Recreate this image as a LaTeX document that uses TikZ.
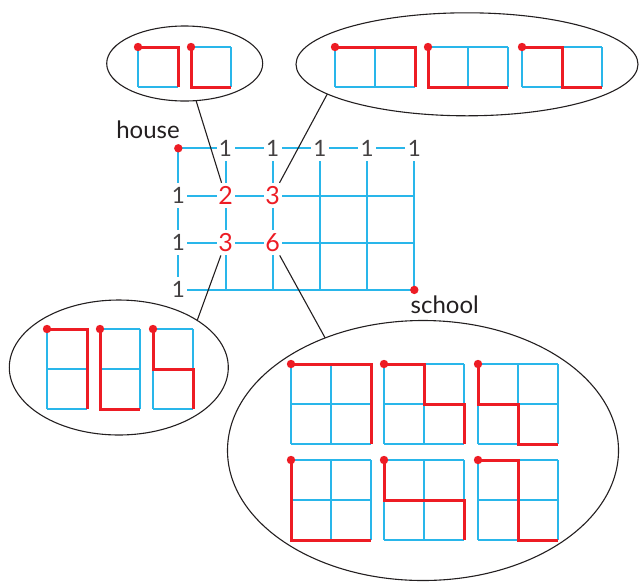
\documentclass[tikz,border=0pt]{standalone}
\usepackage{fontspec}
\setmainfont{Lato}
\usetikzlibrary{shapes.geometric}

\definecolor{gridblue}{HTML}{29B6EA}
\definecolor{routered}{HTML}{ED1C24}
\definecolor{inkgray}{HTML}{231F20}

\tikzset{
  gridline/.style={draw=gridblue, line width=1.3pt},
  maingrid/.style={draw=gridblue, line width=2pt},
  route/.style={draw=routered, line width=3pt, line join=miter},
  bubble/.style={ellipse, draw=inkgray, line width=1.1pt, inner sep=0pt, outer sep=0pt},
  pointer/.style={draw=inkgray, line width=1.1pt},
  count/.style={fill=white, inner sep=0pt, minimum width=18pt, minimum height=25pt,
    font=\fontsize{22.5}{22.5}\selectfont, text=inkgray!85},
  pathcount/.style={count, text=routered, font=\fontsize{25}{25}\selectfont},
  placename/.style={anchor=base, inner sep=0pt, text=inkgray, font=\fontsize{24}{24}\selectfont},
}

% a small block of cells (40pt each) with one red route from its top-left corner
\newcommand\minigrid[5]{%
  \begin{scope}[shift={(#1,#2)}, x=40pt, y=-40pt]
    \foreach \i in {0,...,#3} \draw[gridline] (\i,0) -- (\i,#4);
    \foreach \j in {0,...,#4} \draw[gridline] (0,\j) -- (#3,\j);
    \draw[route] #5;
    \fill[routered] (0,0) circle (4.2pt);
  \end{scope}}

\begin{document}
\begin{tikzpicture}[x=1pt, y=-1pt]
\useasboundingbox (0,0) rectangle (639,582);

% callout bubbles
\node[bubble, minimum width=156pt, minimum height=75pt] (tl) at (184.7,63.5) {};
\node[bubble, minimum width=342pt, minimum height=103pt] (tr) at (467,64.3) {};
\node[bubble, minimum width=219pt, minimum height=135pt] (bl) at (118.8,367.5) {};
\node[bubble, minimum width=391pt, minimum height=260pt] (br) at (423,450.5) {};

% routes to the 2 corner
\minigrid{138}{47}{1}{1}{(0,0)--(1,0)--(1,1)}
\minigrid{191}{47}{1}{1}{(0,0)--(0,1)--(1,1)}

% routes to the upper 3 corner
\minigrid{335}{47}{2}{1}{(0,0)--(2,0)--(2,1)}
\minigrid{428}{47}{2}{1}{(0,0)--(0,1)--(2,1)}
\minigrid{522}{47}{2}{1}{(0,0)--(1,0)--(1,1)--(2,1)}

% routes to the lower 3 corner
\minigrid{47}{329}{1}{2}{(0,0)--(1,0)--(1,2)}
\minigrid{100}{329}{1}{2}{(0,0)--(0,2)--(1,2)}
\minigrid{153}{329}{1}{2}{(0,0)--(0,1)--(1,1)--(1,2)}

% routes to the 6 corner
\minigrid{291}{364}{2}{2}{(0,0)--(2,0)--(2,2)}
\minigrid{384}{364}{2}{2}{(0,0)--(1,0)--(1,1)--(2,1)--(2,2)}
\minigrid{478}{364}{2}{2}{(0,0)--(0,1)--(1,1)--(1,2)--(2,2)}
\minigrid{291}{460}{2}{2}{(0,0)--(0,2)--(2,2)}
\minigrid{384}{460}{2}{2}{(0,0)--(0,1)--(2,1)--(2,2)}
\minigrid{478}{460}{2}{2}{(0,0)--(1,0)--(1,2)--(2,2)}

% street grid between house and school
\begin{scope}[shift={(178.3,148.3)}, x=47.2pt, y=-47.2pt]
  \foreach \j in {0,...,3} \draw[maingrid] (0,\j) -- (5,\j);
  \foreach \i in {0,...,5} \draw[maingrid] (\i,0) -- (\i,3);
  \foreach \i in {1,...,5} \node[count] (top\i) at (\i,0) {1};
  \foreach \j in {1,...,3} \node[count] (left\j) at (0,\j) {1};
  \node[pathcount] (two)    at (1,1) {2};
  \node[pathcount] (threeA) at (2,1) {3};
  \node[pathcount] (threeB) at (1,2) {3};
  \node[pathcount] (six)    at (2,2) {6};
  \coordinate (house) at (0,0);
  \coordinate (school) at (5,3);
\end{scope}
\fill[routered] (house) circle (4.2pt);
\fill[routered] (school) circle (4.2pt);

\node[placename] (houselabel) at (148,138.3) {house};
\node[placename] (schoollabel) at (444.7,313.3) {school};

% callout pointers
\draw[pointer] (tl.-73) -- (two);
\draw[pointer] (tr.-168.5) -- (threeA);
\draw[pointer] (bl.31) -- (threeB);
\draw[pointer] (br.131) -- (six);
\end{tikzpicture}
\end{document}
